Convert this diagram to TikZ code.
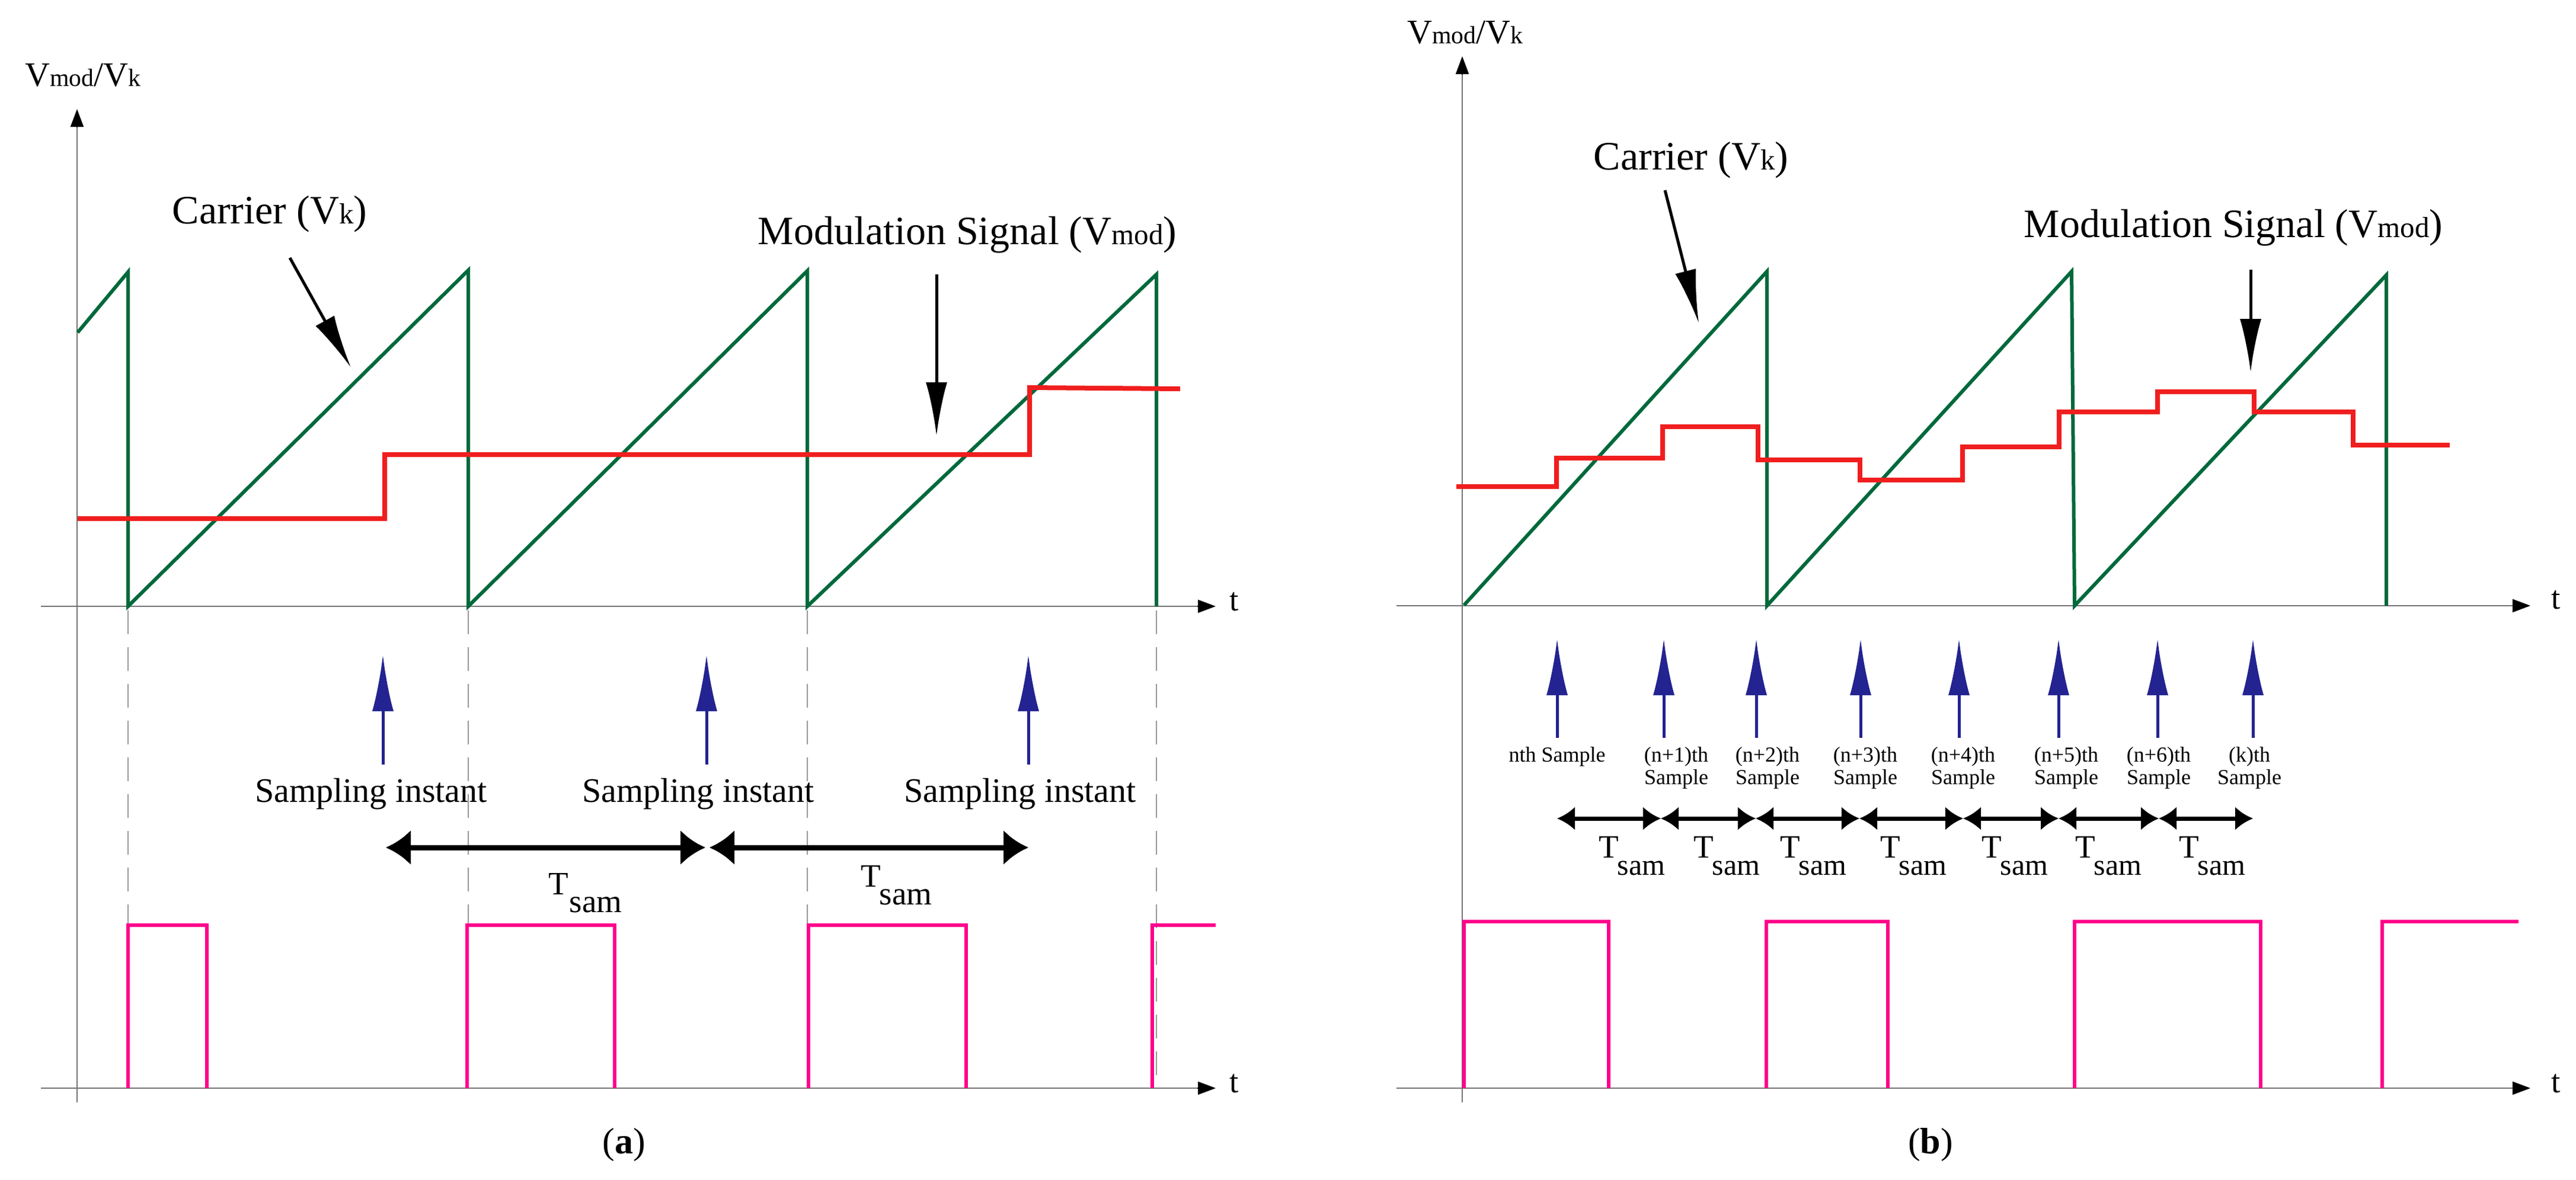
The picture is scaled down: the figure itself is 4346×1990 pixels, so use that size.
\documentclass[tikz,border=0pt]{standalone}
\usepackage{fontspec}
\setmainfont{Liberation Serif}
\usetikzlibrary{arrows.meta}
\definecolor{cgreen}{RGB}{0,105,60}
\definecolor{cred}{RGB}{240,30,30}
\definecolor{cpink}{RGB}{255,0,140}
\definecolor{cblue}{RGB}{35,35,145}
\newcommand\sml[1]{\scalebox{0.72}{#1}}
\begin{document}
\begin{tikzpicture}[x=1pt,y=-1pt,
  axis/.style={draw=black!55,line width=2pt},
  axarr/.style={-{Triangle[length=30pt,width=22pt]},black,line width=2pt},
  gline/.style={draw=cgreen,line width=6pt,line join=miter},
  rline/.style={draw=cred,line width=8pt},
  pline/.style={draw=cpink,line width=6pt},
  dashl/.style={draw=black!40,line width=2pt,dash pattern=on 40pt off 22pt},
  barr/.style={draw=cblue,line width=5pt,-{Latex[length=95pt,width=36pt]}},
  point/.style={draw=black,line width=5pt,-{Latex[length=90pt,width=36pt]}},
  dbl/.style={draw=black,line width=9pt,{Latex[length=42pt,width=60pt]}-{Latex[length=42pt,width=60pt]}},
  dbls/.style={draw=black,line width=7pt,{Latex[length=30pt,width=40pt]}-{Latex[length=30pt,width=40pt]}},
  lab/.style={font=\fontsize{68}{80}\selectfont,inner sep=0pt},
  smp/.style={font=\fontsize{58}{68}\selectfont,inner sep=0pt},
  tiny/.style={font=\fontsize{36}{38}\selectfont,inner sep=0pt,align=center,anchor=north},
  tl/.style={font=\fontsize{55}{60}\selectfont,inner sep=0pt}]
\useasboundingbox (0,0) rectangle (4346,1990);
\fill[white] (0,0) rectangle (4346,1990);
% ===== panel a =====
\coordinate (ay0) at (130,1860); \coordinate (ay1) at (130,184);
\draw[axis] (ay0) -- (130,200); \draw[axarr] (130,215) -- (ay1);
\node[lab,font=\fontsize{58}{68}\selectfont] (aylab) at (140,127) {V\sml{mod}/V\sml{k}};
\coordinate (at0) at (69,1023); \coordinate (at1) at (2051,1023);
\draw[axis] (at0) -- (2030,1023); \draw[axarr] (2020,1023) -- (at1);
\node[tl] (atl) at (2082,1015) {t};
\coordinate (ab0) at (69,1836); \coordinate (ab1) at (2051,1836);
\draw[axis] (ab0) -- (2030,1836); \draw[axarr] (2020,1836) -- (ab1);
\node[tl] (abl) at (2082,1828) {t};
\foreach \x in {216,790,1362,1951} \draw[dashl] (\x,1030) -- (\x,1836);
\draw[gline] (131,561) -- (216,459) -- (216,1023) -- (790,456) -- (790,1023) -- (1362,457) -- (1362,1023) -- (1951,463) -- (1951,1023);
\draw[rline] (131,875) -- (649,875) -- (649,767) -- (1737,767) -- (1737,654) -- (1991,656);
\node[lab] (acar) at (455,361) {Carrier (V\sml{k})};
\coordinate (aca) at (489,435); \coordinate (acb) at (592,620);
\draw[point] (aca) -- (acb);
\node[lab] (amod) at (1632,396) {Modulation Signal (V\sml{mod})};
\coordinate (ama) at (1580,463); \coordinate (amb) at (1580,735);
\draw[point] (ama) -- (amb);
\foreach \x/\n in {646/1,1192/2,1735/3}{
  \coordinate (as\n) at (\x,1290); \coordinate (ae\n) at (\x,1105);
  \draw[barr] (as\n) -- (ae\n);}
\node[smp] (asi1) at (626,1340) {Sampling instant};
\node[smp] (asi2) at (1178,1340) {Sampling instant};
\node[smp] (asi3) at (1721,1340) {Sampling instant};
\coordinate (ad0) at (651,1430); \coordinate (ad1) at (1190,1430); \coordinate (ad2) at (1735,1430);
\draw[dbl] (ad0) -- (ad1); \draw[dbl] (1197,1430) -- (ad2);
\node[tl] (aT1) at (942,1491) {T}; \node[tl] (as1l) at (1005,1527) {sam};
\node[tl] (aT2) at (1469,1478) {T}; \node[tl] (as2l) at (1528,1514) {sam};
\draw[pline] (216,1836) -- (216,1561) -- (349,1561) -- (349,1836);
\draw[pline] (788,1836) -- (788,1561) -- (1037,1561) -- (1037,1836);
\draw[pline] (1364,1836) -- (1364,1561) -- (1630,1561) -- (1630,1836);
\draw[pline] (1944,1836) -- (1944,1561) -- (2051,1561);
\node[lab,font=\fontsize{62}{70}\selectfont] (acap) at (1053,1932) {(\textbf{a})};
% ===== panel b =====
\coordinate (by0) at (2467,1860); \coordinate (by1) at (2467,95);
\draw[axis] (by0) -- (2467,110); \draw[axarr] (2467,125) -- (by1);
\node[lab,font=\fontsize{58}{68}\selectfont] (bylab) at (2472,55) {V\sml{mod}/V\sml{k}};
\coordinate (bt0) at (2356,1022); \coordinate (bt1) at (4269,1022);
\draw[axis] (bt0) -- (4250,1022); \draw[axarr] (4240,1022) -- (bt1);
\node[tl] (btl) at (4312,1012) {t};
\coordinate (bb0) at (2356,1836); \coordinate (bb1) at (4269,1836);
\draw[axis] (bb0) -- (4250,1836); \draw[axarr] (4240,1836) -- (bb1);
\node[tl] (bbl) at (4312,1828) {t};
\draw[gline] (2470,1021) -- (2981,458) -- (2981,1022) -- (3495,458) -- (3500,1022) -- (4026,464) -- (4026,1022);
\draw[rline] (2457,821) -- (2626,821) -- (2626,773) -- (2805,773) -- (2805,720) -- (2966,720) -- (2966,776) -- (3138,776) -- (3138,810) -- (3311,810) -- (3311,754) -- (3474,754) -- (3474,695) -- (3640,695) -- (3640,661) -- (3803,661) -- (3803,695) -- (3970,695) -- (3970,751) -- (4133,751);
\node[lab] (bcar) at (2853,270) {Carrier (V\sml{k})};
\coordinate (bca) at (2809,321); \coordinate (bcb) at (2866,545);
\draw[point] (bca) -- (bcb);
\node[lab] (bmod) at (3768,384) {Modulation Signal (V\sml{mod})};
\coordinate (bma) at (3797,455); \coordinate (bmb) at (3797,628);
\draw[point] (bma) -- (bmb);
\foreach \x/\n in {2627/1,2807/2,2963/3,3139/4,3305/5,3473/6,3640/7,3801/8}{
  \coordinate (bs\n) at (\x,1245); \coordinate (be\n) at (\x,1078);
  \draw[barr] (bs\n) -- (be\n);}
\node[tiny] (bl1) at (2627,1260) {nth Sample};
\node[tiny] (bl2) at (2828,1260) {(n+1)th\\Sample};
\node[tiny] (bl3) at (2982,1260) {(n+2)th\\Sample};
\node[tiny] (bl4) at (3147,1260) {(n+3)th\\Sample};
\node[tiny] (bl5) at (3312,1260) {(n+4)th\\Sample};
\node[tiny] (bl6) at (3486,1260) {(n+5)th\\Sample};
\node[tiny] (bl7) at (3642,1260) {(n+6)th\\Sample};
\node[tiny] (bl8) at (3795,1260) {(k)th\\Sample};
\foreach \a/\b/\n in {2627/2802/1,2802/2962/2,2962/3137/3,3137/3312/4,3312/3473/5,3473/3642/6,3642/3801/7}{
  \coordinate (bd\n a) at (\a,1381); \coordinate (bd\n b) at (\b,1381);
  \draw[dbls] (bd\n a) -- (bd\n b);}
\foreach \x/\n in {2714/1,2874/2,3020/3,3189/4,3360/5,3518/6,3693/7}{
  \node[tl] (bT\n) at (\x,1429) {T};
  \node[tl,font=\fontsize{50}{55}\selectfont] (bsm\n) at (\x+55,1465) {sam};}
\draw[pline] (2470,1836) -- (2470,1555) -- (2714,1555) -- (2714,1836);
\draw[pline] (2980,1836) -- (2980,1555) -- (3185,1555) -- (3185,1836);
\draw[pline] (3500,1836) -- (3500,1555) -- (3814,1555) -- (3814,1836);
\draw[pline] (4019,1836) -- (4019,1555) -- (4249,1555);
\node[lab,font=\fontsize{62}{70}\selectfont] (bcap) at (3257,1932) {(\textbf{b})};
\end{tikzpicture}
\end{document}
